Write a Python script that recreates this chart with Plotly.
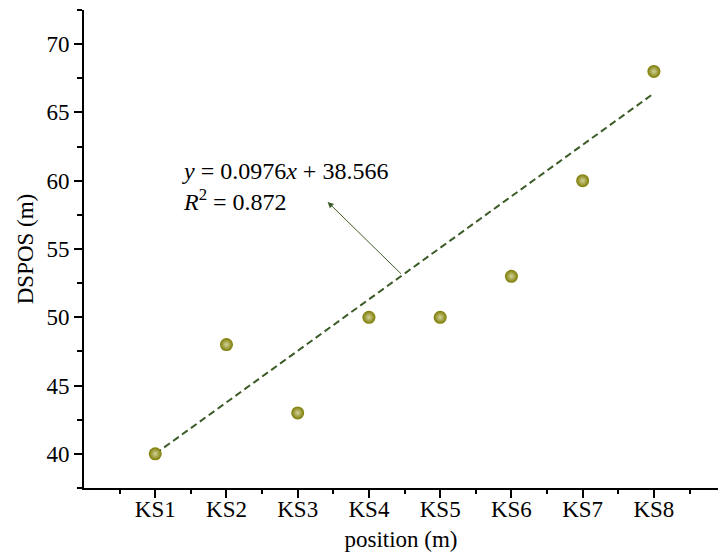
import plotly.graph_objects as go

categories = ["KS1", "KS2", "KS3", "KS4", "KS5", "KS6", "KS7", "KS8"]
positions = [1, 2, 3, 4, 5, 6, 7, 8]
dspos = [40, 48, 43, 50, 50, 53, 60, 68]
trend_x = [1, 8]
trend_y = [40, 66.4]

FONT = "Liberation Serif"
LINE_COLOR = "#3b5b27"

fig = go.Figure()
fig.add_trace(go.Scatter(
    x=trend_x, y=trend_y, mode="lines",
    line=dict(color=LINE_COLOR, width=2, dash="7px,4px"),
    showlegend=False, hoverinfo="skip"))
fig.add_trace(go.Scatter(
    x=positions, y=dspos, mode="markers",
    marker=dict(size=13, color="#7c7a00",
                gradient=dict(type="radial", color="#d2d29a"),
                line=dict(width=0)),
    showlegend=False))

# arrow tail on trend line
tx = 4.47
ty = trend_y[0] + (trend_y[1] - trend_y[0]) * (tx - trend_x[0]) / (trend_x[1] - trend_x[0])
fig.add_annotation(x=3.42, y=58.45, ax=tx, ay=ty, xref="x", yref="y", axref="x", ayref="y",
                   text="", showarrow=True, arrowhead=2, arrowsize=1.2, arrowwidth=1,
                   arrowcolor=LINE_COLOR)
fig.add_annotation(x=1.35, y=59.6, xref="x", yref="y", xanchor="left", yanchor="middle",
                   align="left", showarrow=False,
                   text="<i>y</i> = 0.0976<i>x</i> + 38.566<br><i>R</i><sup>2</sup> = 0.872",
                   font=dict(family=FONT, size=24, color="black"))

axis_common = dict(showgrid=False, zeroline=False, showline=True, linecolor="black",
                   linewidth=2, ticks="outside", ticklen=8, tickwidth=2, tickcolor="black",
                   tickfont=dict(family=FONT, size=23, color="black"))

fig.update_xaxes(range=[0, 8.9], tickvals=positions, ticktext=categories,
                 ticklabelstandoff=-9,
                 title=dict(text="position (m)", font=dict(family=FONT, size=23, color="black"),
                            standoff=12),
                 minor=dict(ticks="outside", ticklen=4, tickwidth=2, tickcolor="black",
                            tick0=0.5, dtick=1),
                 **axis_common)
fig.update_yaxes(range=[37.5, 72.5], tickvals=[40, 45, 50, 55, 60, 65, 70],
                 title=dict(text="DSPOS (m)", font=dict(family=FONT, size=23, color="black"),
                            standoff=6),
                 minor=dict(ticks="outside", ticklen=5, tickwidth=2, tickcolor="black",
                            tick0=37.5, dtick=5),
                 **axis_common)

fig.update_layout(width=718, height=552, margin=dict(l=84, r=0, t=10, b=64),
                  plot_bgcolor="white", paper_bgcolor="white",
                  font=dict(family=FONT, color="black"))

fig.write_html("out.html")
